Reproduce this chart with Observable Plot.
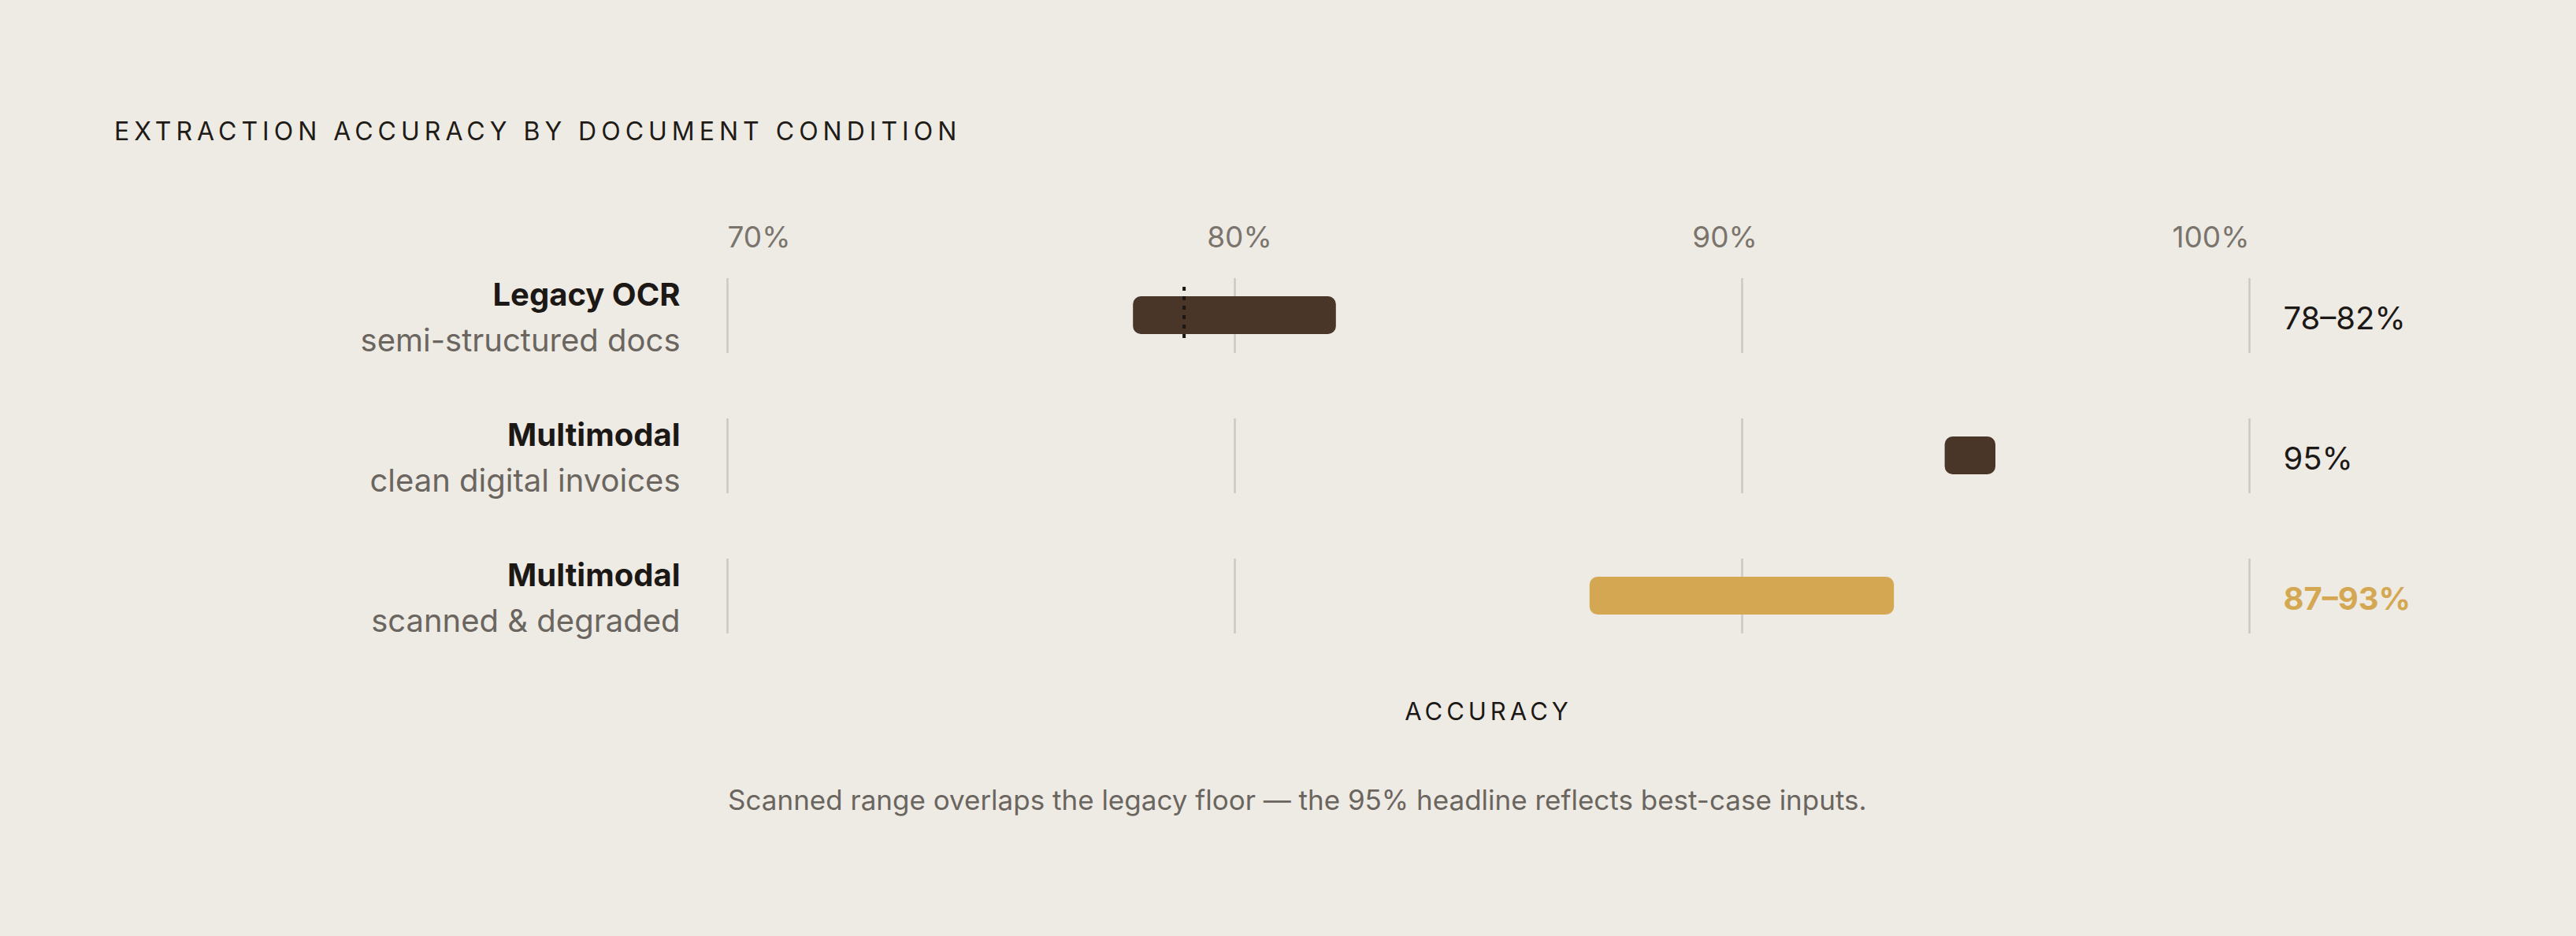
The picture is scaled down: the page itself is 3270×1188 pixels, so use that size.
<!DOCTYPE html>
<html>
<head>
<meta charset="utf-8">
<script src="https://cdn.jsdelivr.net/npm/d3@7"></script>
<script src="https://cdn.jsdelivr.net/npm/@observablehq/plot@0.6"></script>
<style>
  html, body { margin: 0; padding: 0; background: #eeebe5; }
  #page { position: relative; width: 3270px; height: 1188px; background: #eeebe5; overflow: hidden; font-family: Inter, "DejaVu Sans", sans-serif; }
  #title { position: absolute; left: 145px; top: 151px; font-size: 32px; line-height: 32px; letter-spacing: 6px; color: #1f1b17; white-space: nowrap; font-weight: 400; }
  #chart { position: absolute; left: 0; top: 230px; }
  #caption { position: absolute; left: 924px; top: 998px; font-size: 35px; line-height: 35px; color: #6b655f; white-space: nowrap; }
</style>
</head>
<body>
<div id="page">
  <div id="title">EXTRACTION ACCURACY BY DOCUMENT CONDITION</div>
  <div id="chart"></div>
  <div id="caption">Scanned range overlaps the legacy floor — the 95% headline reflects best-case inputs.</div>
</div>
<script>
// ---- data ----
const systems = ["Legacy OCR", "Multimodal", "Multimodal"];
const conditions = ["semi-structured docs", "clean digital invoices", "scanned & degraded"];
const lowValues = [78, 94, 87];
const highValues = [82, 95, 93];
const rangeLabels = ["78–82%", "95%", "87–93%"];
const tickValues = [70, 80, 90, 100];
const tickLabels = ["70%", "80%", "90%", "100%"];
const floorMarker = 79;          // dashed marker on the legacy row
const axisTitle = "ACCURACY";

// ---- derived tables ----
const rows = systems.map((s, i) => ({
  system: s, condition: conditions[i], low: lowValues[i], high: highValues[i], label: rangeLabels[i]
}));
const isHighlight = d => d.condition === "scanned & degraded";
const gridData = conditions.flatMap(c => tickValues.map(t => ({tick: t, condition: c})));
const markerData = [{value: floorMarker, condition: conditions[0]}];
const ticks = tickValues.map((t, i) => ({tick: t, label: tickLabels[i]}));

const ink = "#1c1815";
const muted = "#6b655f";
const tickGray = "#7a746d";
const dark = "#4a3628";
const gold = "#d4a853";

const chart = Plot.plot({
  width: 3270,
  height: 710,
  marginLeft: 923,
  marginRight: 415,
  marginTop: 81,
  marginBottom: 95,
  x: {domain: [70, 100], axis: null},
  y: {domain: conditions, axis: null, padding: 0},
  style: {background: "transparent", fontFamily: "Inter, 'DejaVu Sans', sans-serif", fontSize: "40px", overflow: "visible"},
  marks: [
    Plot.tickX(gridData, {x: "tick", y: "condition", stroke: "#cdc8c0", strokeWidth: 2.5, insetTop: 42, insetBottom: 41}),
    Plot.barX(rows.filter(d => !isHighlight(d)), {x1: "low", x2: "high", y: "condition", fill: dark, insetTop: 65, insetBottom: 65, rx: 10}),
    Plot.barX(rows.filter(isHighlight), {x1: "low", x2: "high", y: "condition", fill: gold, insetTop: 65, insetBottom: 65, rx: 10}),
    Plot.tickX(markerData, {x: "value", y: "condition", stroke: "#1a1714", strokeWidth: 4, strokeDasharray: "5,7", insetTop: 53, insetBottom: 58}),
    // tick labels
    Plot.text(ticks.filter(d => d.tick === 70), {x: "tick", text: "label", frameAnchor: "top", lineAnchor: "bottom", textAnchor: "start", dy: 2, fill: tickGray, fontSize: 37}),
    Plot.text(ticks.filter(d => d.tick === 80), {x: "tick", text: "label", frameAnchor: "top", lineAnchor: "bottom", textAnchor: "middle", dx: 6, dy: 2, fill: tickGray, fontSize: 37}),
    Plot.text(ticks.filter(d => d.tick === 90), {x: "tick", text: "label", frameAnchor: "top", lineAnchor: "bottom", textAnchor: "middle", dx: -22, dy: 2, fill: tickGray, fontSize: 37}),
    Plot.text(ticks.filter(d => d.tick === 100), {x: "tick", text: "label", frameAnchor: "top", lineAnchor: "bottom", textAnchor: "end", dy: 2, fill: tickGray, fontSize: 37}),
    // left labels
    Plot.text(rows, {y: "condition", text: "system", frameAnchor: "left", textAnchor: "end", lineAnchor: "bottom", dx: -60, dy: -13, fontWeight: 700, fill: ink, fontSize: 40}),
    Plot.text(rows, {y: "condition", text: "condition", frameAnchor: "left", textAnchor: "end", lineAnchor: "bottom", dx: -60, dy: 45, fill: muted, fontSize: 40}),
    // right value labels
    Plot.text(rows.filter(d => !isHighlight(d)), {y: "condition", text: "label", frameAnchor: "right", textAnchor: "start", lineAnchor: "bottom", dx: 43, dy: 17, fill: ink, fontSize: 40}),
    Plot.text(rows.filter(isHighlight), {y: "condition", text: "label", frameAnchor: "right", textAnchor: "start", lineAnchor: "bottom", dx: 43, dy: 17, fill: gold, fontWeight: 700, fontSize: 40}),
    // axis title
    Plot.text([axisTitle], {text: d => d, frameAnchor: "bottom", lineAnchor: "bottom", dy: 68, fill: ink, fontSize: 31})
  ]
});
d3.select(chart).selectAll("text")
  .filter(function() { return this.textContent === axisTitle; })
  .style("letter-spacing", "5px");
document.getElementById("chart").appendChild(chart);
</script>
</body>
</html>
